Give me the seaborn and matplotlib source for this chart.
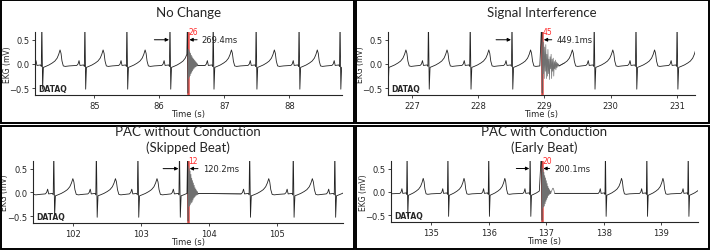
import numpy as np
import pandas as pd
import seaborn as sns
import matplotlib.pyplot as plt
from matplotlib.patches import Rectangle

# one normal heart beat: offsets from the R peak (s) and amplitude (mV)
beat_offsets = [-0.125, -0.105, -0.09, -0.075, -0.02, -0.008, 0.0, 0.012, 0.024,
                0.06, 0.11, 0.16, 0.2, 0.235, 0.26, 0.28, 0.295, 0.31, 0.33, 0.36, 0.42]
beat_values = [-0.03, 0.0, 0.07, -0.03, -0.02, -0.05, 0.95, -0.52, -0.07,
               -0.05, -0.02, 0.02, 0.06, 0.12, 0.2, 0.29, 0.22, 0.06, -0.04, -0.05, -0.04]

# panel 1: No Change
p1_title = "No Change"
p1_xlim = (84.09, 88.81)
p1_beats = [84.195, 84.857, 85.503, 86.165, 86.83, 87.49, 88.15, 88.78]
p1_prev = 86.165
p1_pac = 86.434
p1_index = "26"
p1_interval = "269.4ms"
p1_ring_dt = 0.006
p1_ring = [0.3, -0.3, 0.28, -0.27, 0.25, -0.24, 0.22, -0.2, 0.18, -0.17, 0.15, -0.14, 0.12,
           -0.11, 0.1, -0.09, 0.08, -0.07, 0.06, -0.06, 0.04, -0.05, 0.02, -0.04, 0.0, -0.03]
p1_quiet = 86.66

# panel 2: Signal Interference
p2_title = "Signal Interference"
p2_xlim = (226.64, 231.27)
p2_beats = [226.63, 227.25, 227.88, 228.51, 229.14, 229.75, 230.38, 231.0]
p2_prev = 228.51
p2_pac = 228.96
p2_index = "45"
p2_interval = "449.1ms"
p2_ring_dt = 0.008
p2_ring = [0.5, -0.2, 0.45, -0.3, 0.35, -0.15, 0.4, -0.3, 0.2, -0.25, 0.3, -0.2, 0.1, -0.32,
           0.15, -0.1, 0.2, -0.3, 0.1, -0.15, 0.12, -0.25, 0.05, -0.1, 0.08, -0.12, 0.04,
           -0.08, 0.02, -0.05, 0.0, -0.04]
p2_quiet = 229.27

# panel 3: PAC without Conduction
p3_title = "PAC without Conduction\n(Skipped Beat)"
p3_xlim = (101.42, 105.97)
p3_beats = [101.10, 101.725, 102.35, 102.96, 103.57, 104.60, 105.24, 105.85]
p3_prev = 103.57
p3_pac = 103.69
p3_index = "12"
p3_interval = "120.2ms"
p3_ring_dt = 0.006
p3_ring = [0.55, -0.3, 0.5, -0.28, 0.45, -0.25, 0.38, -0.22, 0.3, -0.2, 0.25, -0.16, 0.2,
           -0.12, 0.15, -0.1, 0.1, -0.08, 0.07, -0.06, 0.04, -0.05, 0.02, -0.04, -0.02]
p3_quiet = 104.45

# panel 4: PAC with Conduction
p4_title = "PAC with Conduction\n(Early Beat)"
p4_xlim = (134.30, 139.64)
p4_beats = [133.87, 134.58, 135.29, 136.0, 136.72, 138.03, 138.75, 139.47]
p4_prev = 136.72
p4_pac = 136.92
p4_index = "20"
p4_interval = "200.1ms"
p4_ring_dt = 0.007
p4_ring = [0.5, -0.35, 0.48, -0.32, 0.42, -0.3, 0.35, -0.25, 0.3, -0.2, 0.24, -0.16, 0.18,
           -0.12, 0.12, -0.08, 0.08, -0.06, 0.05, -0.04, 0.02, -0.03, 0.0, 0.02, 0.04, 0.06,
           0.08, 0.08, 0.06, 0.03, 0.0, -0.03]
p4_quiet = 137.22


def build_trace(beats, pac, ring, ring_dt, quiet):
    t, v = [], []
    for b in beats:
        for o, a in zip(beat_offsets, beat_values):
            t.append(b + o)
            v.append(a)
    t = np.array(t)
    v = np.array(v)
    keep = (t < pac) | (t > quiet)
    base = pd.DataFrame({"t": t[keep], "mv": v[keep]})
    # the PAC spike followed by the ringing
    rt = [pac, pac + 0.006] + [pac + 0.012 + i * ring_dt for i in range(len(ring))]
    rv = [0.95, -0.6] + list(ring)
    burst = pd.DataFrame({"t": rt, "mv": rv})
    pre = pd.concat([base[base.t < pac], burst.iloc[:2]])
    after = base[base.t > quiet]
    ring_part = pd.concat([burst.iloc[1:], after.iloc[:1]])
    post = pd.concat([burst.iloc[-1:], after])
    return pre, ring_part, post


sns.set_style("ticks")
plt.rcParams["font.family"] = ["DejaVu Sans"]

W, H = 710, 251
fig = plt.figure(figsize=(W / 100, H / 100), dpi=100)


def px_box(x0, y0, x1, y1):
    return [x0 / W, 1 - y1 / H, (x1 - x0) / W, (y1 - y0) / H]


# panel frames
for (x0, y0, x1, y1) in [(1, 1, 354, 124), (356, 1, 709, 124),
                         (1, 127, 354, 250), (356, 127, 709, 250)]:
    fig.add_artist(Rectangle((x0 / W, 1 - y1 / H), (x1 - x0) / W, (y1 - y0) / H,
                             transform=fig.transFigure, fill=False,
                             edgecolor="black", linewidth=1.4))

panels = [
    (p1_title, p1_xlim, p1_beats, p1_prev, p1_pac, p1_index, p1_interval, p1_ring, p1_ring_dt,
     p1_quiet, px_box(35, 33, 342, 96), 13, -0.22),
    (p2_title, p2_xlim, p2_beats, p2_prev, p2_pac, p2_index, p2_interval, p2_ring, p2_ring_dt,
     p2_quiet, px_box(388, 33, 695, 96), 13, -0.22),
    (p3_title, p3_xlim, p3_beats, p3_prev, p3_pac, p3_index, p3_interval, p3_ring, p3_ring_dt,
     p3_quiet, px_box(33, 162, 343, 224), 140, -0.23),
    (p4_title, p4_xlim, p4_beats, p4_prev, p4_pac, p4_index, p4_interval, p4_ring, p4_ring_dt,
     p4_quiet, px_box(391, 162, 698, 223), 140, -0.23),
]

for (title, xlim, beats, prev, pac, idx, interval, ring, ring_dt, quiet,
     box, title_y, xlab_y) in panels:
    ax = fig.add_axes(box)
    pre, ring_part, post = build_trace(beats, pac, ring, ring_dt, quiet)
    for part, col, lw in [(pre, "#222222", 0.6), (ring_part, "#707070", 0.5),
                          (post, "#222222", 0.6)]:
        sns.lineplot(data=part, x="t", y="mv", ax=ax, color=col, linewidth=lw,
                     sort=False, estimator=None)
    ax.axvline(pac + 0.004, color="#e53935", linewidth=1.8, alpha=0.9, zorder=1.5)
    ax.set_xlim(*xlim)
    ax.set_ylim(-0.64, 0.66)
    ax.set_yticks([-0.5, 0.0, 0.5])
    ax.set_xlabel("Time (s)", fontsize=6)
    ax.set_ylabel("EKG (mV)", fontsize=5.5)
    ax.xaxis.set_label_coords(0.5, xlab_y)
    ax.yaxis.set_label_coords(-0.076, 0.5)
    ax.tick_params(labelsize=6, length=2.5, width=0.6, pad=1.5)
    for s in ax.spines.values():
        s.set_linewidth(0.8)
    sns.despine(ax=ax)

    ax.text(0.01, 0.11, "DATAQ", transform=ax.transAxes, fontsize=5.5,
            fontweight="bold", va="center", ha="left")
    ax.text(pac + 0.015, 0.67, idx, color="#ff2a2a", fontsize=5.5,
            va="center", ha="left", clip_on=False)
    ax.annotate("", xy=(prev - 0.015, 0.5), xytext=(prev - 0.24, 0.5),
                arrowprops=dict(arrowstyle="-|>", color="black", lw=0.7,
                                mutation_scale=5, shrinkA=0, shrinkB=0))
    ax.annotate(interval, xy=(pac + 0.03, 0.5), xytext=(pac + 0.22, 0.5),
                fontsize=6, va="center", ha="left",
                arrowprops=dict(arrowstyle="-|>", color="black", lw=0.7,
                                mutation_scale=5, shrinkA=1, shrinkB=0))

    cx = (box[0] + box[2] / 2)
    fig.text(cx, 1 - title_y / H, title, ha="center", va="center",
             fontsize=9.5, family=["Lato", "DejaVu Sans"], linespacing=1.3)

fig.savefig("out.png", dpi=100)
